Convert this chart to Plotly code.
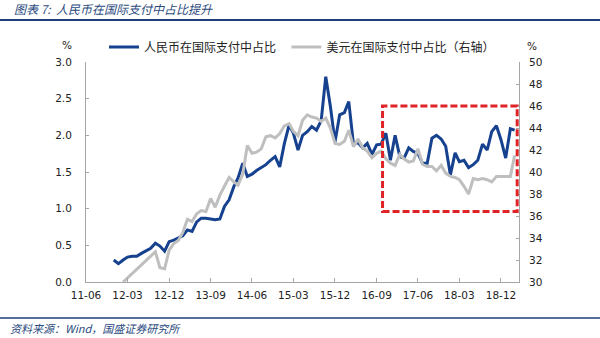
import pandas as pd
import plotly.graph_objects as go

# ---- data ----
rmb_start = "2011-12-01"
rmb_share = [0.30, 0.25, 0.30, 0.34, 0.35, 0.35, 0.39, 0.42, 0.46, 0.53,
             0.49, 0.42, 0.55, 0.57, 0.60, 0.63, 0.71, 0.69, 0.82, 0.87,
             0.87, 0.86, 0.85, 0.86, 1.03, 1.12, 1.30, 1.42, 1.62, 1.44,
             1.47, 1.52, 1.56, 1.60, 1.66, 1.71, 1.57, 1.89, 2.14, 2.03,
             1.80, 2.00, 2.05, 2.12, 2.07, 2.20, 2.80, 2.39, 1.91, 2.28,
             2.31, 2.46, 1.88, 1.90, 1.83, 1.89, 1.74, 1.87, 1.88, 2.03,
             1.66, 2.00, 1.71, 1.69, 1.83, 1.78, 1.75, 1.62, 1.62, 1.96,
             2.00, 1.95, 1.85, 1.46, 1.76, 1.64, 1.66, 1.56, 1.60, 1.66,
             1.88, 1.80, 2.05, 2.13, 1.94, 1.69, 2.09, 2.07]

usd_start = "2012-02-01"
usd_share = [30.0, 30.35, 30.75, 31.15, 31.55, 31.95, 32.35, 32.75,
             31.3, 31.2, 32.9, 33.5, 33.8, 34.5, 35.7, 35.5, 36.2, 36.5,
             36.4, 37.6, 36.8, 37.9, 38.7, 39.5, 39.1, 38.8, 39.8, 42.4,
             41.7, 41.8, 42.1, 43.2, 43.3, 43.1, 43.5, 44.2, 44.4, 43.7,
             43.3, 44.7, 45.2, 45.0, 44.9, 44.6, 44.9, 44.0, 42.6, 42.5,
             42.8, 43.8, 42.3, 43.0, 42.2, 41.9, 41.3, 41.7, 41.9, 41.2,
             40.8, 40.6, 41.6, 41.2, 40.9, 41.0, 42.1, 40.7, 40.5, 40.5,
             40.1, 40.6, 39.9, 39.6, 39.5, 39.3, 38.7, 38.0, 39.4, 39.3,
             39.4, 39.3, 39.1, 39.6, 39.6, 39.6, 39.6, 41.5]

rmb_dates = pd.date_range(rmb_start, periods=len(rmb_share), freq="MS")
usd_dates = pd.date_range(usd_start, periods=len(usd_share), freq="MS")

rmb_name = "人民币在国际支付中占比\u00a0\u00a0"
usd_name = "美元在国际支付中占比（右轴）"
title_text = "图表 7:  人民币在国际支付中占比提升"
source_text = "资料来源：Wind，国盛证券研究所"

# ---- layout geometry (pixels) ----
W, H = 600, 338
L, R, T, B = 86, 519, 62, 282
pw, ph = R - L, B - T


def px(x):
    return (x - L) / pw


def py(y):
    return (B - y) / ph


CJK = "Noto Sans CJK SC"
TICKF = dict(family="DejaVu Sans", size=10.5, color="#222222")
BLUE = "#15418F"
GREY = "#BFBFBF"
AX = "#A6A6A6"
NAVY = "#2B4A7E"

fig = go.Figure()
fig.add_trace(go.Scatter(x=usd_dates, y=usd_share, name=usd_name, yaxis="y2",
                         mode="lines", line=dict(color=GREY, width=3),
                         legendrank=2))
fig.add_trace(go.Scatter(x=rmb_dates, y=rmb_share, name=rmb_name, yaxis="y",
                         mode="lines", line=dict(color=BLUE, width=3),
                         legendrank=1))

fig.update_layout(
    width=W, height=H,
    margin=dict(l=L, r=W - R, t=T, b=H - B, pad=0),
    paper_bgcolor="white", plot_bgcolor="white",
    showlegend=True,
    legend=dict(orientation="h", x=px(104), y=py(47), xanchor="left", yanchor="middle",
                font=dict(family=CJK, size=12, color="#222222"),
                bgcolor="rgba(0,0,0,0)", itemwidth=30, tracegroupgap=0),
    xaxis=dict(type="date", range=["2011-06-01", "2019-03-30"],
               tick0="2011-06-01", dtick="M9", tickformat="%y-%m",
               ticks="inside", ticklen=4, tickcolor=AX, tickfont=TICKF,
               ticklabelstandoff=3,
               showline=True, linecolor=AX, linewidth=1, showgrid=False,
               zeroline=False),
    yaxis=dict(range=[0, 3], dtick=0.5, tickformat=".1f",
               ticks="inside", ticklen=3, tickcolor=AX, tickfont=TICKF,
               ticklabelstandoff=11,
               showline=True, linecolor=AX, linewidth=1, showgrid=False,
               zeroline=False),
    yaxis2=dict(range=[30, 50], dtick=2, overlaying="y", side="right",
                ticks="inside", ticklen=3, tickcolor=AX, tickfont=TICKF,
                ticklabelstandoff=7,
                showline=True, linecolor=AX, linewidth=1, showgrid=False,
                zeroline=False),
)

# highlight box
fig.add_shape(type="rect", xref="x", yref="y2",
              x0="2016-10-10", x1="2019-03-18", y0=36.4, y1=46.0,
              line=dict(color="#E02327", width=3, dash="7px,3px"),
              layer="above")

# title and rules
fig.add_shape(type="line", xref="paper", yref="paper",
              x0=px(0), x1=px(600), y0=py(20), y1=py(20),
              line=dict(color="#1F3F7A", width=2))
fig.add_shape(type="line", xref="paper", yref="paper",
              x0=px(0), x1=px(600), y0=py(318), y1=py(318),
              line=dict(color="#1F3F7A", width=1.5))
fig.add_annotation(text=title_text, xref="paper", yref="paper",
                   x=px(12), y=py(9), xanchor="left", yanchor="middle",
                   showarrow=False,
                   font=dict(family=CJK, size=12, color=NAVY, style="italic"))
fig.add_annotation(text=source_text, xref="paper", yref="paper",
                   x=px(8), y=py(328), xanchor="left", yanchor="middle",
                   showarrow=False,
                   font=dict(family=CJK, size=11, color=NAVY, style="italic"))
# unit labels
fig.add_annotation(text="%", xref="paper", yref="paper", x=px(67), y=py(45),
                   xanchor="center", yanchor="middle", showarrow=False,
                   font=dict(family="DejaVu Sans", size=10.5, color="#222222"))
fig.add_annotation(text="%", xref="paper", yref="paper", x=px(532), y=py(46),
                   xanchor="center", yanchor="middle", showarrow=False,
                   font=dict(family="DejaVu Sans", size=10.5, color="#222222"))

fig.write_html("out.html")
